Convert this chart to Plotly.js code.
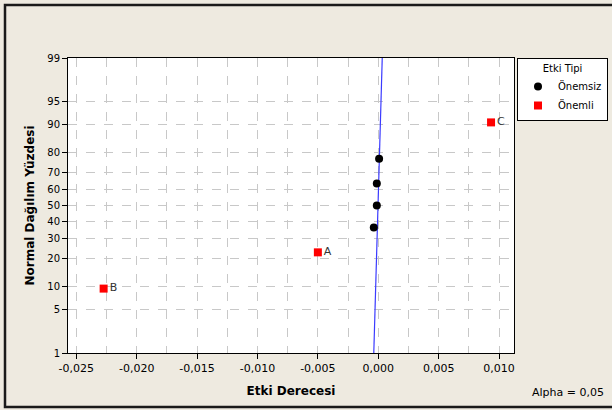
<!DOCTYPE html>
<html>
<head>
<meta charset="utf-8">
<script src="https://cdn.plot.ly/plotly-3.0.1.min.js"></script>
<style>html,body{margin:0;padding:0;background:#EEEAE0;}#chart{width:612px;height:410px;}</style>
</head>
<body>
<div id="chart"></div>
<script>
// Data
var importantLabels = ["B", "A", "C"];
var importantEffect = [-0.02274, -0.0050, 0.00934];
var importantPct = [9.5, 23.0, 90.5];

var minorEffect = [-0.00037, -0.00012, -0.00012, 0.00007];
var minorPct = [36.5, 50.0, 63.5, 77.0];

var lineEffect = [-0.00037, 0.00033];
var linePct = [1, 99];

var yTickPct = [1, 5, 10, 20, 30, 40, 50, 60, 70, 80, 90, 95, 99];
var xTickVals = [-0.025, -0.020, -0.015, -0.010, -0.005, 0.000, 0.005, 0.010];
var xTickText = ["-0,025", "-0,020", "-0,015", "-0,010", "-0,005", "0,000", "0,005", "0,010"];

// probability axis transform (inverse normal CDF, Acklam)
function probit(p) {
  var a = [-3.969683028665376e+01, 2.209460984245205e+02, -2.759285104469687e+02, 1.383577518672690e+02, -3.066479806614716e+01, 2.506628277459239e+00];
  var b = [-5.447609879822406e+01, 1.615858368580409e+02, -1.556989798598866e+02, 6.680131188771972e+01, -1.328068155288572e+01];
  var c = [-7.784894002430293e-03, -3.223964580411365e-01, -2.400758277161838e+00, -2.549732539343734e+00, 4.374664141464968e+00, 2.938163982698783e+00];
  var d = [7.784695709041462e-03, 3.224671290700398e-01, 2.445134137142996e+00, 3.754408661907416e+00];
  var pl = 0.02425, q, r;
  if (p < pl) { q = Math.sqrt(-2 * Math.log(p)); return (((((c[0]*q+c[1])*q+c[2])*q+c[3])*q+c[4])*q+c[5]) / ((((d[0]*q+d[1])*q+d[2])*q+d[3])*q+1); }
  if (p > 1 - pl) { q = Math.sqrt(-2 * Math.log(1 - p)); return -(((((c[0]*q+c[1])*q+c[2])*q+c[3])*q+c[4])*q+c[5]) / ((((d[0]*q+d[1])*q+d[2])*q+d[3])*q+1); }
  q = p - 0.5; r = q * q;
  return (((((a[0]*r+a[1])*r+a[2])*r+a[3])*r+a[4])*r+a[5])*q / (((((b[0]*r+b[1])*r+b[2])*r+b[3])*r+b[4])*r+1);
}
function tz(arr) { return arr.map(function (v) { return probit(v / 100); }); }

var font = "DejaVu Sans, Verdana, sans-serif";
var PW = 446, PH = 295;

var traces = [
  {
    x: lineEffect, y: tz(linePct), mode: "lines", type: "scatter",
    line: { color: "#3b3bff", width: 1.2 }, showlegend: false, hoverinfo: "skip"
  },
  {
    x: minorEffect, y: tz(minorPct), mode: "markers", type: "scatter", name: "Önemsiz",
    marker: { color: "#000000", size: 8, symbol: "circle" }
  },
  {
    x: importantEffect, y: tz(importantPct), mode: "markers+text", type: "scatter", name: "Önemli",
    text: importantLabels, textposition: "middle right",
    textfont: { family: font, size: 11, color: "#333333" },
    marker: { color: "#ff0000", size: 8, symbol: "square" }
  }
];

var layout = {
  width: 612, height: 410,
  paper_bgcolor: "#EEEAE0", plot_bgcolor: "#ffffff",
  margin: { l: 68, r: 98, t: 58, b: 57, autoexpand: false },
  separators: ",.",
  font: { family: font, size: 11, color: "#000000" },
  xaxis: {
    range: [-0.02569, 0.01124],
    tickvals: xTickVals, ticktext: xTickText,
    ticks: "outside", ticklen: 5, tickcolor: "#000", tickwidth: 1,
    showline: true, linecolor: "#000", linewidth: 1, mirror: true,
    showgrid: true, gridcolor: "#c8c8c8", griddash: "dash", gridwidth: 1,
    minor: { dtick: 0.0025, tick0: 0, showgrid: true, gridcolor: "#c8c8c8", griddash: "dash", gridwidth: 1 },
    zeroline: false,
    tickfont: { family: font, size: 11, color: "#000" },
    title: { text: "<b>Etki Derecesi</b>", font: { family: font, size: 12, color: "#000" }, standoff: 12 }
  },
  yaxis: {
    range: [probit(0.01), probit(0.99)],
    tickvals: tz(yTickPct), ticktext: yTickPct.map(String),
    ticks: "outside", ticklen: 5, tickcolor: "#000", tickwidth: 1,
    showline: true, linecolor: "#000", linewidth: 1, mirror: true,
    showgrid: true, gridcolor: "#c8c8c8", griddash: "dash", gridwidth: 1,
    zeroline: false,
    tickfont: { family: font, size: 10, color: "#000" },
    title: { text: "<b>Normal Dağılım Yüzdesi</b>", font: { family: font, size: 12, color: "#000" }, standoff: 10 }
  },
  legend: {
    x: (517 - 68) / PW, y: 1.0, xanchor: "left", yanchor: "top",
    bgcolor: "#ffffff", bordercolor: "#000000", borderwidth: 1,
    font: { family: font, size: 10, color: "#000" },
    title: { text: "Etki Tipi", side: "top center", font: { family: font, size: 10, color: "#000" } },
    itemwidth: 30, tracegroupgap: 0
  },
  annotations: [
    { xref: "paper", yref: "paper", x: (606 - 68) / PW, y: -(392 - 353) / PH, xanchor: "right", yanchor: "middle",
      text: "Alpha = 0,05", showarrow: false, font: { family: font, size: 11, color: "#000" } }
  ],
  shapes: [
    { type: "rect", xref: "paper", yref: "paper", layer: "above",
      x0: (5 - 68) / PW, x1: (616 - 68) / PW, y0: -(407 - 353) / PH, y1: 1 + (58 - 5) / PH,
      line: { color: "#1a1a1a", width: 2.5 } }
  ]
};

Plotly.newPlot("chart", traces, layout, { displayModeBar: false, staticPlot: true });
</script>
</body>
</html>
